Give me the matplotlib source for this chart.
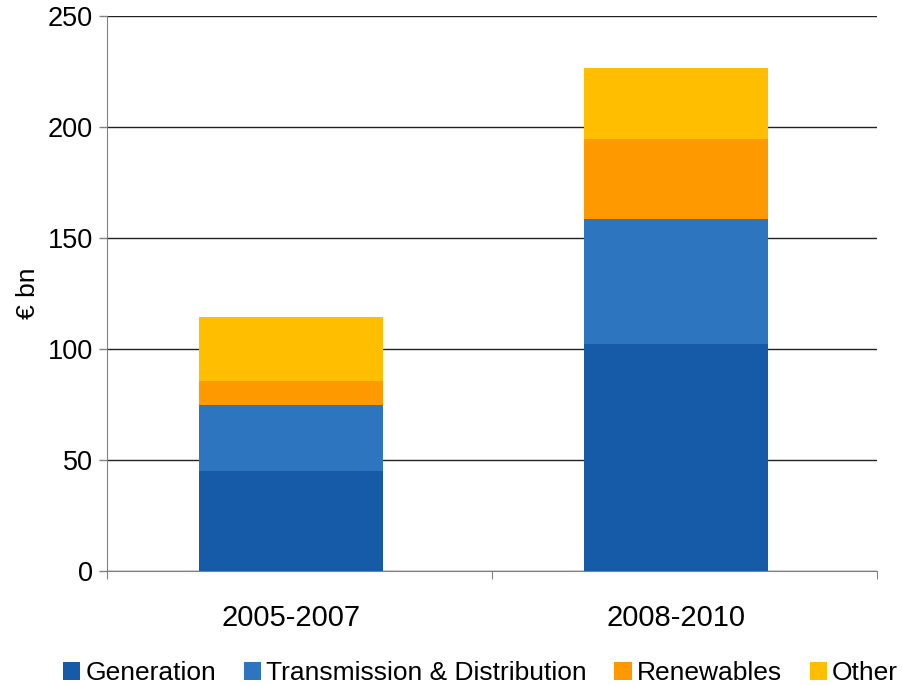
import matplotlib.pyplot as plt
import numpy as np

periods = ['2005-2007', '2008-2010']
series = ['Generation', 'Transmission & Distribution', 'Renewables', 'Other']
generation = [44.9, 102.1]
transmission = [29.7, 56.3]
renewables = [11.0, 36.1]
other = [28.8, 31.9]
colors = ['#165BA8', '#2E75C0', '#FF9900', '#FFBF00']

plt.rcParams['font.family'] = ['Liberation Sans', 'DejaVu Sans']

fig = plt.figure(figsize=(9.03, 6.85), dpi=100)
ax = fig.add_axes([0.1185, 0.1669, 0.8525, 0.8102])

x = np.arange(len(periods))
bottom = np.zeros(len(periods))
for name, vals, c in zip(series, [generation, transmission, renewables, other], colors):
    ax.bar(x, vals, width=0.48, bottom=bottom, color=c, label=name, zorder=3)
    bottom += np.array(vals)

ax.set_xlim(-0.478, 1.522)
ax.set_ylim(0, 250)
ax.set_yticks(range(0, 251, 50))
ax.tick_params(axis='y', labelsize=19.5, length=6, color='#808080', width=1, pad=4)
ax.set_xticks([-0.478, 0.522, 1.522])
ax.set_xticklabels([])
ax.set_xticks(x, minor=True)
ax.set_xticklabels(periods, minor=True)
ax.tick_params(axis='x', which='major', length=6, color='#808080', direction='out')
ax.tick_params(axis='x', which='minor', length=0, labelsize=21, pad=24)
ax.yaxis.grid(True, color='#222222', linewidth=1, zorder=0)
for s in ['top', 'right']:
    ax.spines[s].set_visible(False)
ax.spines['left'].set_color('#808080')
ax.spines['bottom'].set_color('#808080')
ax.set_ylabel('€ bn', fontsize=19, labelpad=6)

fig.legend(loc='lower center', ncol=4, bbox_to_anchor=(0.532, -0.035), frameon=False,
           fontsize=19, handlelength=0.65, handleheight=0.65, handletextpad=0.2,
           columnspacing=1.05)

fig.savefig('out.png', dpi=100)
